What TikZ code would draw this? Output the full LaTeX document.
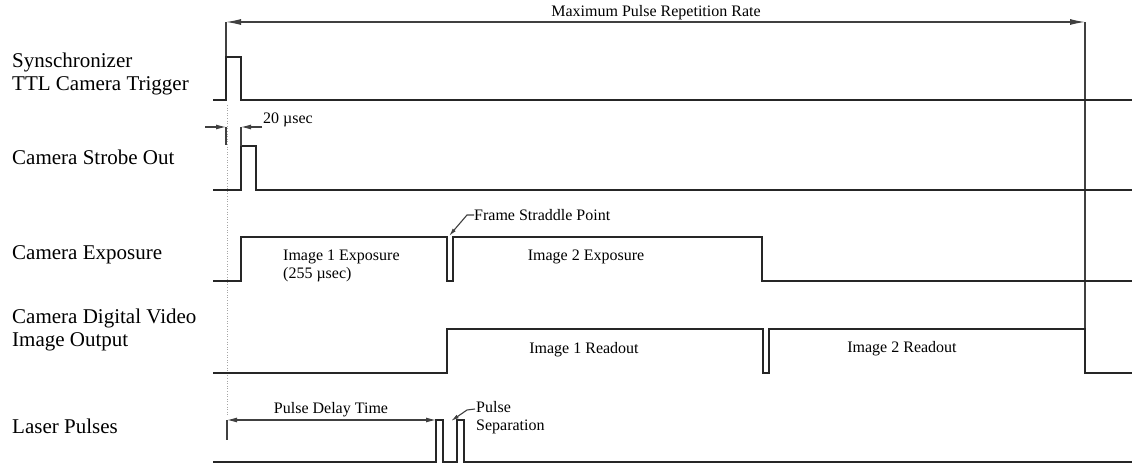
\documentclass[tikz,border=0pt]{standalone}
\usepackage{fontspec}
\setmainfont{Liberation Serif}
\usetikzlibrary{arrows.meta}
\begin{document}
\begin{tikzpicture}[x=1pt,y=-1pt,
  sig/.style={line width=1.1pt, line join=miter, draw=black!85},
  dimline/.style={line width=1.1pt, draw=black!75},
  smalltip/.style={-{Latex[length=10pt,width=5pt]}},
  leadtip/.style={-{Latex[length=8pt,width=4pt]}},
  biglabel/.style={font=\fontsize{21}{23}\selectfont, anchor=west, inner sep=0, align=left},
  smalllabel/.style={font=\fontsize{16}{18}\selectfont, inner sep=0, align=left},
  guide/.style={draw=black!35, line width=0.6pt, dotted}]
\useasboundingbox (0,0) rectangle (1132,465);

% left labels
\node[biglabel] (lsync) at (12,74) {Synschronizer\\TTL Camera Trigger};
\node[biglabel] (lstrobe) at (12,157) {Camera Strobe Out};
\node[biglabel] (lexp) at (12,255) {Camera Exposure};
\node[biglabel] (lvid) at (12,330) {Camera Digital Video\\Image Output};
\node[biglabel] (llaser) at (12,426) {Laser Pulses};

% coordinates
\coordinate (mprL) at (226,22);
\coordinate (mprR) at (1085,22);
\coordinate (trigRise) at (226,100);
\coordinate (vidFall) at (1085,329);

% Maximum pulse repetition rate
\draw[dimline] (trigRise) -- (mprL);
\draw[dimline] (vidFall) -- (mprR);
\draw[dimline, {Latex[length=15pt,width=6pt]}-{Latex[length=15pt,width=6pt]}] (mprL) -- (mprR);
\node[smalllabel, anchor=south] (tmpr) at (656,20) {Maximum Pulse Repetition Rate};

% dotted guide
\coordinate (g1) at (227,105);
\coordinate (g2) at (227,415);
\draw[guide] (g1) -- (g2);

% trigger
\draw[sig] (213,100) -- (226,100) -- (226,57) -- (241,57) -- (241,100) -- (1132,100);

% strobe
\draw[sig] (213,190) -- (241,190) -- (241,146) -- (256,146) -- (256,190) -- (1132,190);
\coordinate (d20a) at (226,127);
\coordinate (d20b) at (241,127);
\coordinate (d20al) at (205,127);
\coordinate (d20br) at (262,127);
\coordinate (d20tick) at (226,145);
\coordinate (strobeRise) at (241,146);
\draw[dimline, smalltip] (d20al) -- (d20a);
\draw[dimline, smalltip] (d20br) -- (d20b);
\draw[dimline] (d20a) -- (d20tick);
\draw[dimline] (d20b) -- (strobeRise);
\node[smalllabel, anchor=west] (t20) at (263,120) {20 µsec};

% exposure
\draw[sig] (213,281) -- (241,281) -- (241,237) -- (447,237) -- (447,281) -- (453,281) -- (453,237) -- (762,237) -- (762,281) -- (1132,281);
\node[smalllabel, anchor=west] (timg1) at (283,266) {Image 1 Exposure\\(255 µsec)};
\node[smalllabel] (timg2) at (586,257) {Image 2 Exposure};
\node[smalllabel, anchor=west] (tfsp) at (474,215) {Frame Straddle Point};
\coordinate (fspA) at (467,215);
\coordinate (fspTip) at (449,236);
\draw[dimline, leadtip] (tfsp.west) -- (fspA) -- (fspTip);

% video
\draw[sig] (213,373) -- (447,373) -- (447,329) -- (763,329) -- (763,373) -- (769,373) -- (769,329) -- (1085,329) -- (1085,373) -- (1132,373);
\node[smalllabel] (trd1) at (584,350) {Image 1 Readout};
\node[smalllabel] (trd2) at (902,349) {Image 2 Readout};

% laser
\draw[sig] (213,462) -- (436,462) -- (436,420) -- (443,420) -- (443,462) -- (457,462) -- (457,420) -- (464,420) -- (464,462) -- (1132,462);
\coordinate (pdL) at (227,420);
\coordinate (pdR) at (436,420);
\coordinate (pdTick) at (227,440);
\draw[dimline, {Latex[length=10pt,width=5pt]}-{Latex[length=10pt,width=5pt]}] (pdL) -- (pdR);
\draw[dimline] (pdL) -- (pdTick);
\node[smalllabel] (tpd) at (331,410) {Pulse Delay Time};
\node[smalllabel, anchor=west] (tps) at (476,418) {Pulse\\Separation};
\coordinate (psA) at (467,410);
\coordinate (psTip) at (451,421);
\draw[dimline, leadtip] (475,409) -- (psA) -- (psTip);
\end{tikzpicture}
\end{document}
